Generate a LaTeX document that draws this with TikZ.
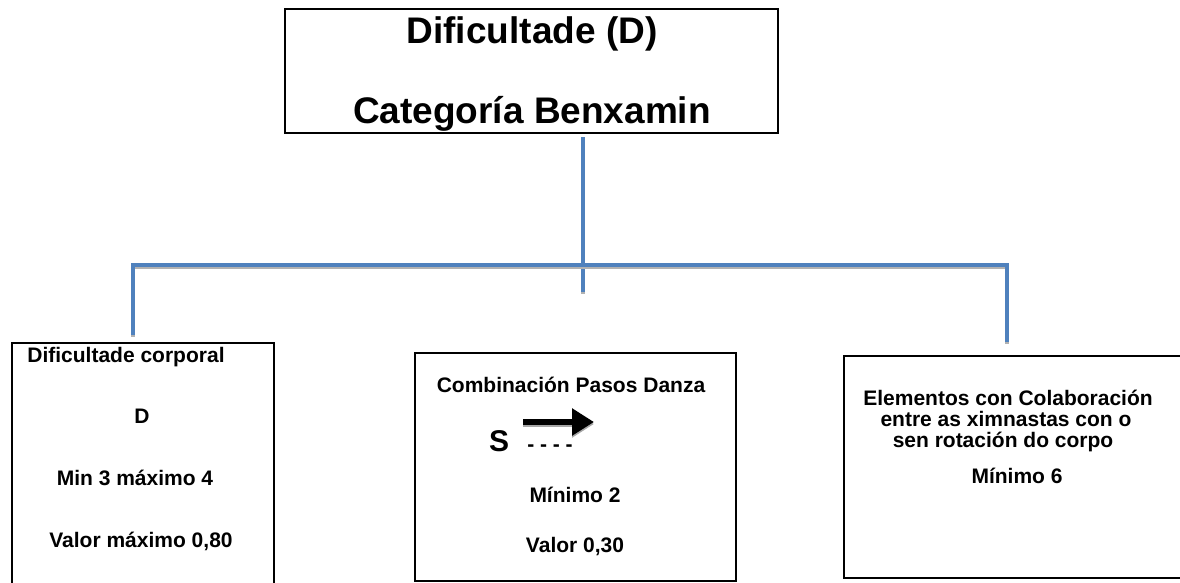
\documentclass[tikz,border=0pt]{standalone}
\usepackage{fontspec}
\setmainfont{Liberation Sans}
\usetikzlibrary{arrows.meta}
\definecolor{lineblue}{RGB}{79,129,189}
\begin{document}
\begin{tikzpicture}[x=1pt,y=-1pt,
 box/.style={draw=black, line width=1.6pt, inner sep=0pt, fill=white},
 blueline/.style={draw=lineblue, line width=4pt, preaction={draw=black!30, line width=4pt, transform canvas={yshift=-1.5pt}}},
 txt/.style={font=\bfseries\fontsize{21}{24}\selectfont, inner sep=0pt, anchor=base},
 bigtxt/.style={font=\bfseries\fontsize{37}{44}\selectfont, inner sep=0pt, anchor=base},
 stxt/.style={font=\bfseries\fontsize{30}{34}\selectfont, inner sep=0pt, anchor=base},
]
\useasboundingbox (0,0) rectangle (1180,582);
% boxes
\node[box, minimum width=493pt, minimum height=124pt] (top) at (531.5,71) {};
\node[box, minimum width=262pt, minimum height=260pt, anchor=north west] (leftbox) at (11,342) {};
\node[box, minimum width=321pt, minimum height=228pt, anchor=north west] (midbox) at (414,352) {};
\node[box, minimum width=360pt, minimum height=222pt, anchor=north west] (rightbox) at (843,355) {};
% title
\node[bigtxt] (t1) at (532,43) {Dificultade (D)};
\node[bigtxt] (t2) at (532,123) {Categoría Benxamin};
% left
\node[txt] (l1) at (126,362) {Dificultade corporal};
\node[txt] (l2) at (142,423) {D};
\node[txt] (l3) at (135,485) {Min 3 máximo 4};
\node[txt] (l4) at (141,547) {Valor máximo 0,80};
% middle
\node[txt] (m1) at (571,392) {Combinación Pasos Danza};
\node[stxt] (m2) at (499,451) {S};
\node[txt] (m3) at (550,451) {- - - -};
\node[txt] (m4) at (575,502) {Mínimo 2};
\node[txt] (m5) at (575,552) {Valor 0,30};
\coordinate (arrS) at (523,422);
\coordinate (arrE) at (594,422);
\draw[line width=6pt, black!35, -{Triangle[length=22pt,width=26pt]}, transform canvas={yshift=-2pt}] (arrS) -- (arrE);
\draw[line width=6pt, black, -{Triangle[length=22pt,width=26pt]}] (arrS) -- (arrE);
% right
\node[txt] (r1) at (1008,405) {Elementos con Colaboración};
\node[txt] (r2) at (1006,426) {entre as ximnastas con o};
\node[txt] (r3) at (1003,447) {sen rotación do corpo};
\node[txt] (r4) at (1017,483) {Mínimo 6};
% connectors
\coordinate (trunkTop) at (583,137);
\coordinate (trunkEnd) at (583,292);
\coordinate (lTop) at (133,265);
\coordinate (lEnd) at (133,335);
\coordinate (rTop) at (1007,265);
\coordinate (rEnd) at (1007,342);
\draw[blueline] (trunkTop) -- (trunkEnd);
\draw[blueline] (lEnd) -- (lTop) -- (rTop) -- (rEnd);
\end{tikzpicture}
\end{document}
